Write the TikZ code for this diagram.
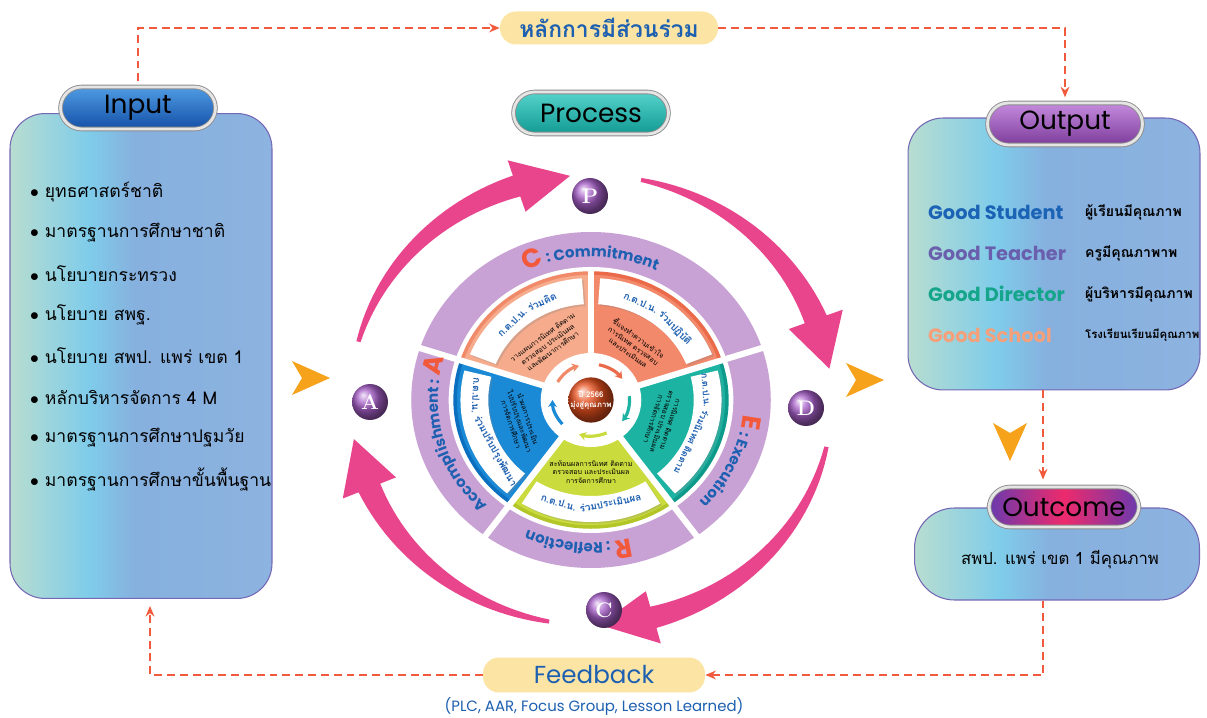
\documentclass[tikz,border=0pt]{standalone}
\usepackage{fontspec}
\newfontfamily\thaifont[Script=Thai]{Loma}
\newfontfamily\popfont{Poppins}
\usetikzlibrary{arrows.meta,decorations.text,shadows}

\definecolor{dashred}{HTML}{F15A3C}
\definecolor{pinkarr}{HTML}{E8458D}
\definecolor{chevorange}{HTML}{F7A21B}
\definecolor{lilac}{HTML}{C9A2D5}
\definecolor{ballpurple}{HTML}{A65FC8}
\definecolor{coreorange}{HTML}{E8501E}
\definecolor{textblue}{HTML}{1D5FB0}
\definecolor{letterred}{HTML}{F2583A}
\definecolor{paleyellow}{HTML}{FCE5A4}
\definecolor{pmint}{HTML}{B8DDD0}
\definecolor{psky}{HTML}{7FCCEA}
\definecolor{psteel}{HTML}{86B0DE}
\definecolor{psteeltwo}{HTML}{8DB3E0}
\definecolor{panelline}{HTML}{7467B5}
\definecolor{seccommit}{HTML}{F6AC8C}
\definecolor{edgecommit}{HTML}{F08A68}
\definecolor{secdo}{HTML}{F2896B}
\definecolor{edgedo}{HTML}{EB6A4A}
\definecolor{secexec}{HTML}{1DB3A2}
\definecolor{edgeexec}{HTML}{0E9A8B}
\definecolor{secrefl}{HTML}{CADB3D}
\definecolor{edgerefl}{HTML}{B3C628}
\definecolor{secacc}{HTML}{1B8AD6}
\definecolor{edgeacc}{HTML}{0B6FBF}
\definecolor{gstud}{HTML}{1B63B5}
\definecolor{gteach}{HTML}{6A5FAD}
\definecolor{gdir}{HTML}{14A58A}
\definecolor{gschool}{HTML}{F5A07A}
\definecolor{inpilltop}{HTML}{4F9BE3}
\definecolor{inpillbot}{HTML}{1450A8}
\definecolor{procpilltop}{HTML}{55D3CB}
\definecolor{procpillbot}{HTML}{119A93}
\definecolor{outpilltop}{HTML}{C58BDD}
\definecolor{outpillbot}{HTML}{7D3C9C}
\definecolor{ocpillside}{HTML}{6A3AAE}
\definecolor{ocpillmid}{HTML}{EE2A6C}

\pgfdeclarehorizontalshading{panelshade}{100bp}{color(0bp)=(pmint); color(25bp)=(pmint); color(40bp)=(psky); color(49bp)=(psteel); color(75bp)=(psteeltwo); color(100bp)=(psteeltwo)}

\newcommand\bigletter{\popfont\bfseries\fontsize{15}{15}\selectfont\color{letterred}}
\newcommand\ringword{\popfont\bfseries\fontsize{8.5}{8.5}\selectfont\color{textblue}}

\begin{document}
\begin{tikzpicture}[x=0.02cm, y=0.02cm,
	panel/.style={rounded corners=0.7cm, draw=panelline, line width=0.6pt, shading=panelshade, inner sep=0pt},
	pill/.style={rounded corners=0.42cm, minimum width=3.1cm, minimum height=0.84cm, inner sep=0pt, draw=black!45, double=black!10, double distance=1.6pt, line width=0.5pt, font=\popfont\fontsize{15}{15}\selectfont},
	tag/.style={fill=paleyellow, rounded corners=0.32cm, minimum height=0.66cm, inner sep=0pt, text=textblue},
	dasharrow/.style={draw=dashred, line width=1.1pt, dash pattern=on 4.5pt off 2.8pt, -{Stealth[length=6pt, width=5pt]}},
	chevron/.style={fill=chevorange},
	ballnode/.style={circle, minimum size=0.72cm, inner sep=0pt, shading=ball, ball color=ballpurple, text=white, font=\bfseries\large},
	item/.style={anchor=west, font=\thaifont\fontsize{10}{12}\selectfont},
	headtext/.style={font=\thaifont\bfseries\fontsize{5.6}{7}\selectfont, text=textblue, inner sep=0pt},
	bodytext/.style={font=\thaifont\fontsize{4}{5}\selectfont, align=center, inner sep=0pt}
]
	\useasboundingbox (0,0) rectangle (1207,717);
	\fill[white] (0,0) rectangle (1207,717);

	% panels
	\node[panel, minimum width=5.24cm, minimum height=9.7cm] (inbox) at (141,361) {};
	\node[panel, minimum width=5.84cm, minimum height=5.44cm] (outbox) at (1054,463) {};
	\node[panel, rounded corners=0.8cm, minimum width=5.7cm, minimum height=1.84cm] (outcomebox) at (1057,163) {};

	\node[pill, top color=inpilltop, bottom color=inpillbot] (inhead) at (138,609) {Input};
	\node[pill, top color=procpilltop, bottom color=procpillbot] (prochead) at (591,604) {Process};
	\node[pill, top color=outpilltop, bottom color=outpillbot] (outhead) at (1065,593) {Output};
	\node[pill, minimum width=3cm, minimum height=0.8cm, left color=ocpillside, right color=ocpillside, middle color=ocpillmid] (outcomehead) at (1064,210) {Outcome};

	% input list
	\foreach \t [count=\i] in {ยุทธศาสตร์ชาติ, มาตรฐานการศึกษาชาติ, นโยบายกระทรวง, นโยบาย สพฐ., นโยบาย สพป. แพร่ เขต 1, หลักบริหารจัดการ 4 M, มาตรฐานการศึกษาปฐมวัย, มาตรฐานการศึกษาขั้นพื้นฐาน}
		\node[item] (in\i) at (24,566-41*\i) {{\normalfont$\bullet$}\ \t};

	% output list
	\foreach \g/\col/\t [count=\i] in {Good Student/gstud/ผู้เรียนมีคุณภาพ, Good Teacher/gteach/ครูมีคุณภาพาพ, Good Director/gdir/ผู้บริหารมีคุณภาพ, Good School/gschool/{\fontsize{6.5}{8}\selectfont โรงเรียนเรียนมีคุณภาพ}}{
		\node[anchor=west, text=\col, font=\popfont\bfseries\fontsize{11}{12}\selectfont] (good\i) at (922,546-41*\i) {\g};
		\node[anchor=west, font=\thaifont\bfseries\fontsize{8}{9}\selectfont] (gthai\i) at (1079,546-41*\i) {\t};
	}

	\node[font=\thaifont\fontsize{9.5}{11}\selectfont] (outcometext) at (1060,157) {สพป. แพร่ เขต 1 มีคุณภาพ};

	% tags
	\node[tag, minimum width=4.36cm, font=\thaifont\bfseries\fontsize{13}{14}\selectfont] (principle) at (609,689) {หลักการมีส่วนร่วม};
	\node[tag, minimum width=4.44cm, minimum height=0.7cm, font=\popfont\fontsize{14}{14}\selectfont] (feedback) at (594,42) {Feedback};
	\node[text=textblue, font=\popfont\fontsize{8.5}{9}\selectfont] (fbnote) at (594,11) {(PLC, AAR, Focus Group, Lesson Learned)};

	% dashed links
	\coordinate (intop) at ([yshift=3pt]inhead.north);
	\coordinate (outtop) at ([yshift=3pt]outhead.north);
	\coordinate (oarrow) at ([xshift=-0.22cm]outbox.south);
	\coordinate (outcometop) at ([yshift=4pt]outcomehead.north);
	\coordinate (fbstart) at ([xshift=-0.28cm]outcomebox.south);
	\coordinate (inbottom) at ([xshift=0.18cm, yshift=-0.14cm]inbox.south);
	\draw[dasharrow] (intop) |- (principle.west);
	\draw[dasharrow] (principle.east) -| (outtop);
	\draw[dasharrow] (oarrow) -- (oarrow |- outcometop);
	\draw[dasharrow] (fbstart) |- (feedback.east);
	\draw[dasharrow] (feedback.west) -| (inbottom);

	% orange arrows
	\foreach \p/\r in {{(310,339)}/0, {(864,337)}/0, {(1010,276)}/-90}
		\fill[chevron, shift={\p}, rotate=\r] (20,0) -- (-18,17) -- (-8,0) -- (-18,-17) -- cycle;

	% wheel
	\begin{scope}[shift={(591,317)}, xscale=1.07]
		\fill[lilac] (0,0) circle[radius=168];
		\fill[white] (0,0) circle[radius=133];
		\foreach \a/\fc/\ec in {90/seccommit/edgecommit, 18/secdo/edgedo, -54/secexec/edgeexec, 234/secrefl/edgerefl, 162/secacc/edgeacc}
			\filldraw[fill=\fc, draw=\ec, line width=2pt] (0,0) -- (\a:127) arc[start angle=\a, end angle=\a+72, radius=127] -- cycle;
		\foreach \a in {18,162,234,306}
			\draw[white, line width=3.5pt] (0,0) -- (\a:172);
		\draw[white, line width=3.5pt] (0,0) -- (90:130);
		\foreach \a in {90,18,-54,234,162}
			\fill[white, drop shadow={opacity=0.25, shadow xshift=1pt, shadow yshift=-1pt}] (\a+4:96) arc[start angle=\a+4, end angle=\a+68, radius=96] -- (\a+68:122) arc[start angle=\a+68, end angle=\a+4, radius=122] -- cycle;

		% header words
		\node[headtext, anchor=east, rotate=44.25] (hcommita) at (124.25:109) {ก.ต.ป.น.};
		\node[headtext, anchor=west, rotate=25.25] (hcommitb) at (122.75:109) {ร่วมคิด};
		\node[headtext, anchor=east, rotate=-24.75] (hdoa) at (55.25:109) {ก.ต.ป.น.};
		\node[headtext, anchor=west, rotate=-46.75] (hdob) at (53.75:109) {ร่วมปฏิบัติ};
		\node[headtext, anchor=east, rotate=-85.5, font=\thaifont\bfseries\fontsize{5.2}{6}\selectfont] (hexeca) at (-4:109) {ก.ต.ป.น.};
		\node[headtext, anchor=west, rotate=-115.75, font=\thaifont\bfseries\fontsize{5.2}{6}\selectfont] (hexecb) at (-5.5:109) {ร่วมนิเทศ ติดตาม};
		\node[headtext, anchor=east, rotate=-17.25] (hrefla) at (262.75:109) {ก.ต.ป.น.};
		\node[headtext, anchor=west, rotate=10.75] (hreflb) at (264.25:109) {ร่วมประเมินผล};
		\node[headtext, anchor=east, rotate=-92.75] (hacca) at (187.25:109) {ก.ต.ป.น.};
		\node[headtext, anchor=west, rotate=-61.25] (haccb) at (188.75:109) {ร่วมปรับปรุงพัฒนา};

		\node[bodytext, rotate=36] (bcommit) at (126:69) {วางแผนการนิเทศ ติดตาม\\ตรวจสอบ ประเมินผล\\และพัฒนาการศึกษา};
		\node[bodytext, rotate=-36] (bdo) at (54:68) {ชี้แจงทำความเข้าใจ\\การนิเทศ ตรวจสอบ\\และประเมินผล};
		\node[bodytext, rotate=-108] (bexec) at (-18:70) {การนิเทศ ติดตาม\\ตรวจสอบ ประเมินผล\\การจัดการศึกษา};
		\node[bodytext] (brefl) at (270:72) {สะท้อนผลการนิเทศ ติดตาม\\ตรวจสอบ และประเมินผล\\การจัดการศึกษา};
		\node[bodytext, rotate=-72] (bacc) at (198:70) {นำผลการประเมิน\\ไปปรับปรุงและพัฒนา\\การจัดการศึกษา};

		\path[decorate, decoration={text along path, text align=center, text={|\bigletter|C|\ringword| : Commitment}}] (128:143) arc[start angle=128, end angle=52, radius=143];
		\path[decorate, decoration={text along path, text align=center, text={|\bigletter|E|\ringword| : Execution}}] (12:143) arc[start angle=12, end angle=-62, radius=143];
		\path[decorate, decoration={text along path, text align=center, text={|\bigletter|R|\ringword| : Reflection}}] (-58:143) arc[start angle=-58, end angle=-132, radius=143];
		\path[decorate, decoration={text along path, text align=center, text={|\ringword|Accomplishment : |\bigletter|A}}] (238:143) arc[start angle=238, end angle=152, radius=143];

		\fill[white] (0,0) circle[radius=47];
		\foreach \a/\col in {150/edgecommit, 78/edgedo, 6/secexec, -66/secrefl, -138/secacc}
			\draw[\col, line width=1.8pt, -{Stealth[length=4pt, width=5pt]}] (\a:36) arc[start angle=\a, end angle=\a-42, radius=36];
		\node[circle, minimum size=0.9cm, inner sep=0pt, shading=ball, ball color=coreorange, text=white, font=\thaifont\bfseries\fontsize{4.5}{5.5}\selectfont, align=center] (core) at (0,0) {ปี 2566\\มุ่งสู่คุณภาพ};

		% pink cycle arrows
		\foreach \ts/\te in {165/95, 78/8, -12/-88, -100/-170}{
			\pgfmathsetmacro{\hb}{\te+13}
			\fill[pinkarr] plot[domain=0:1, samples=30] ({\ts+\x*(\hb-\ts)}:{227+9*\x}) -- (\hb:252) -- (\te:225) -- (\hb:198) -- plot[domain=0:1, samples=30] ({\hb+\x*(\ts-\hb)}:{214+9*\x}) -- cycle;
		}
	\end{scope}

	\node[ballnode] (pball) at (590,521) {P};
	\node[ballnode] (dball) at (806,309) {D};
	\node[ballnode] (cball) at (604,107) {C};
	\node[ballnode] (aball) at (370,315) {A};
\end{tikzpicture}
\end{document}
